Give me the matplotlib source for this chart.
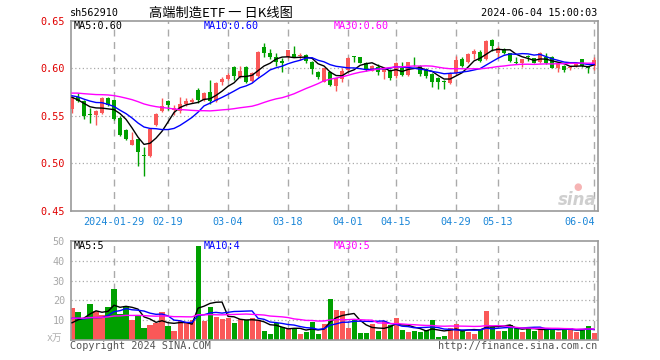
import numpy as np
import pandas as pd
import matplotlib
matplotlib.use('Agg')
import matplotlib.pyplot as plt

plt.rcParams['font.family'] = ['DejaVu Sans Mono', 'Noto Sans CJK SC']

# trading days shown (2024)
dates = ['01-18', '01-19', '01-22', '01-23', '01-24', '01-25', '01-26', '01-29', '01-30', '01-31',
         '02-01', '02-02', '02-05', '02-06', '02-07', '02-08', '02-19', '02-20', '02-21', '02-22',
         '02-23', '02-26', '02-27', '02-28', '02-29', '03-01', '03-04', '03-05', '03-06', '03-07',
         '03-08', '03-11', '03-12', '03-13', '03-14', '03-15', '03-18', '03-19', '03-20', '03-21',
         '03-22', '03-25', '03-26', '03-27', '03-28', '03-29', '04-01', '04-02', '04-03', '04-08',
         '04-09', '04-10', '04-11', '04-12', '04-15', '04-16', '04-17', '04-18', '04-19', '04-22',
         '04-23', '04-24', '04-25', '04-26', '04-29', '04-30', '05-06', '05-07', '05-08', '05-09',
         '05-10', '05-13', '05-14', '05-15', '05-16', '05-17', '05-20', '05-21', '05-22', '05-23',
         '05-24', '05-27', '05-28', '05-29', '05-30', '05-31', '06-03', '06-04']

opens = [0.557, 0.570, 0.566, 0.552, 0.551, 0.553, 0.569, 0.567, 0.548, 0.535,
         0.519, 0.525, 0.509, 0.508, 0.540, 0.555, 0.565, 0.556, 0.555, 0.562,
         0.564, 0.577, 0.567, 0.575, 0.566, 0.586, 0.589, 0.601, 0.591, 0.601,
         0.587, 0.592, 0.622, 0.6165, 0.612, 0.608, 0.6115, 0.615, 0.613, 0.614,
         0.607, 0.5965, 0.586, 0.596, 0.5815, 0.5885, 0.598, 0.612, 0.6115, 0.6055,
         0.5975, 0.6015, 0.5955, 0.598, 0.5915, 0.600, 0.593, 0.6055, 0.602, 0.599,
         0.594, 0.590, 0.5865, 0.5845, 0.5947, 0.6095, 0.607, 0.6145, 0.6175, 0.6095,
         0.630, 0.6155, 0.620, 0.6158, 0.6062, 0.606, 0.6122, 0.6105, 0.607, 0.612,
         0.612, 0.600, 0.6025, 0.600, 0.6025, 0.6095, 0.602, 0.6018]
highs = [0.571, 0.574, 0.567, 0.558, 0.556, 0.570, 0.570, 0.568, 0.550, 0.536,
         0.533, 0.526, 0.517, 0.537, 0.553, 0.569, 0.567, 0.561, 0.570, 0.569,
         0.569, 0.579, 0.575, 0.588, 0.585, 0.591, 0.595, 0.602, 0.602, 0.602,
         0.596, 0.618, 0.627, 0.620, 0.616, 0.6105, 0.6195, 0.6235, 0.6155, 0.6145,
         0.608, 0.5975, 0.600, 0.597, 0.590, 0.600, 0.6115, 0.613, 0.612, 0.607,
         0.603, 0.604, 0.601, 0.599, 0.607, 0.607, 0.607, 0.6115, 0.603, 0.600,
         0.595, 0.591, 0.588, 0.5955, 0.6125, 0.6115, 0.616, 0.620, 0.619, 0.630,
         0.631, 0.6235, 0.6215, 0.616, 0.6116, 0.610, 0.614, 0.611, 0.6175, 0.6165,
         0.613, 0.605, 0.603, 0.602, 0.6065, 0.610, 0.6025, 0.6115]
lows = [0.553, 0.564, 0.547, 0.542, 0.540, 0.552, 0.560, 0.545, 0.529, 0.524,
        0.519, 0.497, 0.487, 0.507, 0.539, 0.554, 0.556, 0.551, 0.553, 0.560,
        0.563, 0.563, 0.565, 0.562, 0.564, 0.582, 0.588, 0.588, 0.590, 0.584,
        0.585, 0.591, 0.612, 0.6095, 0.602, 0.5955, 0.6105, 0.6115, 0.609, 0.606,
        0.594, 0.5885, 0.585, 0.581, 0.5765, 0.586, 0.597, 0.607, 0.605, 0.597,
        0.597, 0.593, 0.5885, 0.588, 0.590, 0.5915, 0.592, 0.6025, 0.5915, 0.590,
        0.580, 0.578, 0.578, 0.583, 0.593, 0.6015, 0.606, 0.6095, 0.607, 0.609,
        0.6185, 0.6115, 0.6145, 0.607, 0.6045, 0.601, 0.608, 0.605, 0.606, 0.6045,
        0.600, 0.5955, 0.5965, 0.598, 0.6015, 0.6015, 0.5947, 0.5985]
closes = [0.570, 0.565, 0.550, 0.551, 0.555, 0.569, 0.561, 0.546, 0.530, 0.525,
          0.524, 0.512, 0.508, 0.536, 0.552, 0.560, 0.561, 0.558, 0.562, 0.566,
          0.567, 0.567, 0.574, 0.565, 0.584, 0.589, 0.593, 0.592, 0.5975, 0.585,
          0.595, 0.6175, 0.6165, 0.612, 0.607, 0.6055, 0.619, 0.612, 0.614, 0.608,
          0.599, 0.5905, 0.600, 0.5825, 0.5895, 0.5975, 0.6105, 0.6115, 0.606, 0.598,
          0.6025, 0.5955, 0.600, 0.5895, 0.605, 0.5925, 0.6065, 0.605, 0.594, 0.592,
          0.586, 0.585, 0.586, 0.594, 0.6085, 0.6025, 0.615, 0.6185, 0.608, 0.629,
          0.623, 0.621, 0.6158, 0.608, 0.606, 0.6095, 0.612, 0.6055, 0.6155, 0.6053,
          0.6005, 0.6045, 0.598, 0.6015, 0.606, 0.602, 0.600, 0.6085]
# volume, 10k lots
volumes = [16.3, 14.3, 10.5, 18.2, 14.7, 12.7, 16.7, 25.7, 13.0, 17.2,
           10.2, 12.2, 6.2, 7.7, 8.8, 14.2, 7.2, 4.7, 9.7, 8.8,
           10.2, 47.2, 9.7, 16.7, 11.7, 10.7, 11.2, 8.7, 10.5, 10.0,
           11.2, 10.0, 4.7, 3.2, 8.7, 6.5, 5.7, 6.0, 3.2, 4.3,
           9.2, 3.2, 8.2, 20.7, 15.2, 14.7, 6.2, 10.5, 3.7, 3.7,
           8.2, 4.7, 9.7, 7.7, 11.2, 5.2, 4.2, 4.7, 4.2, 5.2,
           10.2, 1.7, 2.2, 6.2, 8.2, 5.2, 4.2, 3.2, 5.2, 14.7,
           6.7, 4.7, 4.7, 7.7, 6.7, 4.2, 6.2, 4.7, 5.7, 6.2,
           5.7, 4.2, 5.7, 6.2, 4.2, 5.7, 7.2, 3.7]

# sessions before the window, only used to warm up the moving averages
prev_closes = [0.566, 0.568, 0.565, 0.569, 0.572, 0.570, 0.567, 0.566, 0.569, 0.571,
               0.576, 0.580, 0.585, 0.588, 0.586, 0.583, 0.584, 0.580, 0.578, 0.581,
               0.577, 0.574, 0.571, 0.570, 0.571, 0.579, 0.568, 0.569, 0.561]
prev_volumes = [10, 12, 9, 11, 13, 10, 12, 11, 9, 12,
                11, 10, 13, 12, 10, 11, 12, 10, 11, 11,
                14, 13, 12, 15, 12, 7, 6, 8, 6.7]

tick_dates = ['01-29', '02-19', '03-04', '03-18', '04-01', '04-15', '04-29', '05-13', '06-04']
price_ticks = [0.45, 0.50, 0.55, 0.60, 0.65]
vol_ticks = [10, 20, 30, 40, 50]
price_ma_labels = ['MA5:0.60', 'MA10:0.60', 'MA30:0.60']
vol_ma_labels = ['MA5:5', 'MA10:4', 'MA30:5']

RED = '#fa5858'
GREEN = '#00a000'
MA_COLORS = ['black', '#0000ff', '#ff00ff']
GRID = '#aaaaaa'

W, H = 660, 360
def px(x, y):
    return x / W, 1 - y / H

n0 = len(prev_closes)
c_all = pd.Series(prev_closes + closes)
v_all = pd.Series(prev_volumes + volumes)
price_ma = [c_all.rolling(w).mean().iloc[n0:].to_numpy() for w in (5, 10, 30)]
vol_ma = [v_all.rolling(w).mean().iloc[n0:].to_numpy() for w in (5, 10, 30)]

x = np.arange(len(closes))
o = np.array(opens); c = np.array(closes)
up = c >= o
colors = np.where(up, RED, GREEN)
tick_idx = [dates.index(d) for d in tick_dates]

fig = plt.figure(figsize=(6.6, 3.6), dpi=100)
ax = fig.add_axes([70.5 / W, 1 - 210.7 / H, 527.2 / W, 190 / H])
axv = fig.add_axes([70.5 / W, 1 - 340.3 / H, 527.2 / W, 99.6 / H])

for a in (ax, axv):
    a.set_xlim(-0.25, 87.6)
    for s in a.spines.values():
        s.set_color('#9a9a9a')
        s.set_linewidth(1.2)
    a.tick_params(length=0, pad=4, labelsize=7.3)
    a.set_xticks([])
    for t in tick_idx:
        a.axvline(t, color=GRID, lw=1, ls=(0, (5, 4)), zorder=0)

# price panel
ax.set_ylim(0.45, 0.65)
for y in price_ticks[1:-1]:
    ax.axhline(y, color=GRID, lw=0.9, ls=(0, (1, 2)), zorder=0)
ax.set_yticks(price_ticks)
ax.set_yticklabels(['%.2f' % v for v in price_ticks], color='#e00000')

body = np.maximum(np.abs(c - o), 0.0009)
ax.vlines(x, lows, highs, colors=colors, lw=1, zorder=2)
ax.bar(x, body, bottom=np.minimum(o, c), width=0.78, color=colors, zorder=3)
for m, col in zip(price_ma, MA_COLORS):
    ax.plot(x, m, color=col, lw=1, zorder=4)

for lab, col, xp in zip(price_ma_labels, MA_COLORS, [74, 204, 334]):
    fig.text(*px(xp, 26), lab, color=col, fontsize=7.3, va='center')

for k, t in enumerate(tick_idx):
    lab = '2024-' + tick_dates[k] if k == 0 else tick_dates[k]
    ha = 'right' if k == len(tick_idx) - 1 else 'center'
    xx = t + 0.1 if ha == 'right' else t
    ax.text(xx, -0.035, lab, transform=ax.get_xaxis_transform(), ha=ha, va='top',
            color='#1a86d8', fontsize=7.3)

# volume panel
axv.set_ylim(0, 50)
for y in vol_ticks[:-1]:
    axv.axhline(y, color=GRID, lw=0.9, ls=(0, (1, 2)), zorder=0)
axv.set_yticks(vol_ticks)
axv.set_yticklabels([str(v) for v in vol_ticks], color='#a8a8a8')
axv.bar(x, volumes, width=0.84, color=colors, zorder=2)
for m, col in zip(vol_ma, MA_COLORS):
    axv.plot(x, m, color=col, lw=1, zorder=4)
for lab, col, xp in zip(vol_ma_labels, MA_COLORS, [74, 204, 334]):
    fig.text(*px(xp, 246), lab, color=col, fontsize=7.3, va='center')
fig.text(*px(62, 338), 'x万', color='#b0b0b0', fontsize=7, ha='right', va='center')

# header / footer
fig.text(*px(70, 13), 'sh562910', fontsize=7.3, va='center')
fig.text(*px(149, 13), '高端制造ETF 一 日K线图', fontsize=9.5, va='center',
         family=['Noto Sans CJK SC', 'DejaVu Sans'])
fig.text(*px(597, 13), '2024-06-04 15:00:03', fontsize=7.3, va='center', ha='right')
fig.text(*px(70, 346), 'Copyright 2024 SINA.COM', fontsize=7.3, va='center', color='#555555')
fig.text(*px(597, 346), 'http://finance.sina.com.cn', fontsize=7.3, va='center', ha='right',
         color='#555555')
fig.text(*px(597, 200), 'sina', fontsize=12, style='italic', weight='bold', color='#cfcfcf',
         ha='right', va='center', family='DejaVu Sans')
fig.text(*px(578, 187), '●', fontsize=7, color='#f6b4b4', ha='center', va='center',
         family='DejaVu Sans')

fig.savefig('out.png', dpi=100)
